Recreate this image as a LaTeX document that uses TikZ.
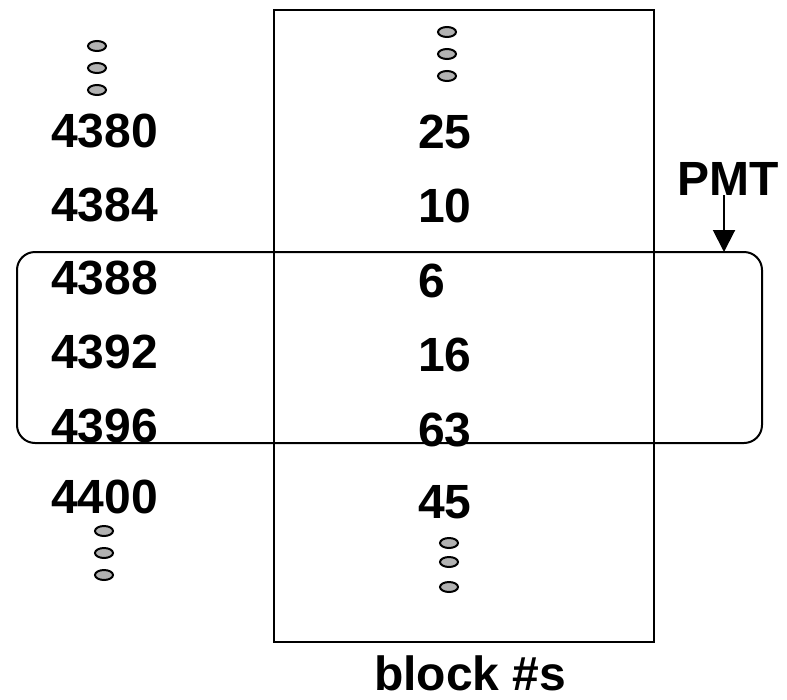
\documentclass[tikz,border=0pt]{standalone}
\usepackage{fontspec}
\setmainfont{Liberation Sans}
\usetikzlibrary{arrows.meta,shapes.geometric}
\begin{document}
\begin{tikzpicture}[x=1pt,y=-1pt,
  lbl/.style={font=\fontsize{48}{52}\selectfont\bfseries, inner sep=0pt, anchor=base west},
  frame/.style={line width=2pt},
  dot/.style={draw, line width=2pt, fill=black!30, ellipse, minimum width=18pt, minimum height=10pt, inner sep=0pt},
  ptr/.style={line width=2pt, -{Triangle[width=22pt,length=22pt]}}]
\useasboundingbox (0,0) rectangle (787,699);
% block-number table
\draw[frame] (274,10) rectangle (654,642);
% window over the page-map table
\draw[frame, rounded corners=18pt] (17,252) rectangle (762,443);
% addresses
\node[lbl] (a0) at (51,147) {4380};
\node[lbl] (a1) at (51,221) {4384};
\node[lbl] (a2) at (51,294.5) {4388};
\node[lbl] (a3) at (51,368) {4392};
\node[lbl] (a4) at (51,442) {4396};
\node[lbl] (a5) at (51,513) {4400};
% block numbers
\node[lbl] (b0) at (418,148) {25};
\node[lbl] (b1) at (418,222.5) {10};
\node[lbl] (b2) at (418,297) {6};
\node[lbl] (b3) at (418,371.5) {16};
\node[lbl] (b4) at (418,446) {63};
\node[lbl] (b5) at (418,518) {45};
% continuation marks
\node[dot] (la1) at (97,46) {};
\node[dot] (la2) at (97,68) {};
\node[dot] (la3) at (97,90) {};
\node[dot] (ma1) at (447,32) {};
\node[dot] (ma2) at (447,54) {};
\node[dot] (ma3) at (447,76) {};
\node[dot] (lb1) at (104,531) {};
\node[dot] (lb2) at (104,553) {};
\node[dot] (lb3) at (104,575) {};
\node[dot] (mb1) at (449,543) {};
\node[dot] (mb2) at (449,562) {};
\node[dot] (mb3) at (449,587) {};
% pointer
\node[lbl] (pmt) at (677,195) {PMT};
\coordinate (tip) at (724,252);
\draw[ptr] (tip |- pmt.base) -- (tip);
% caption
\node[lbl] (cap) at (374,690) {block \#s};
\end{tikzpicture}
\end{document}
